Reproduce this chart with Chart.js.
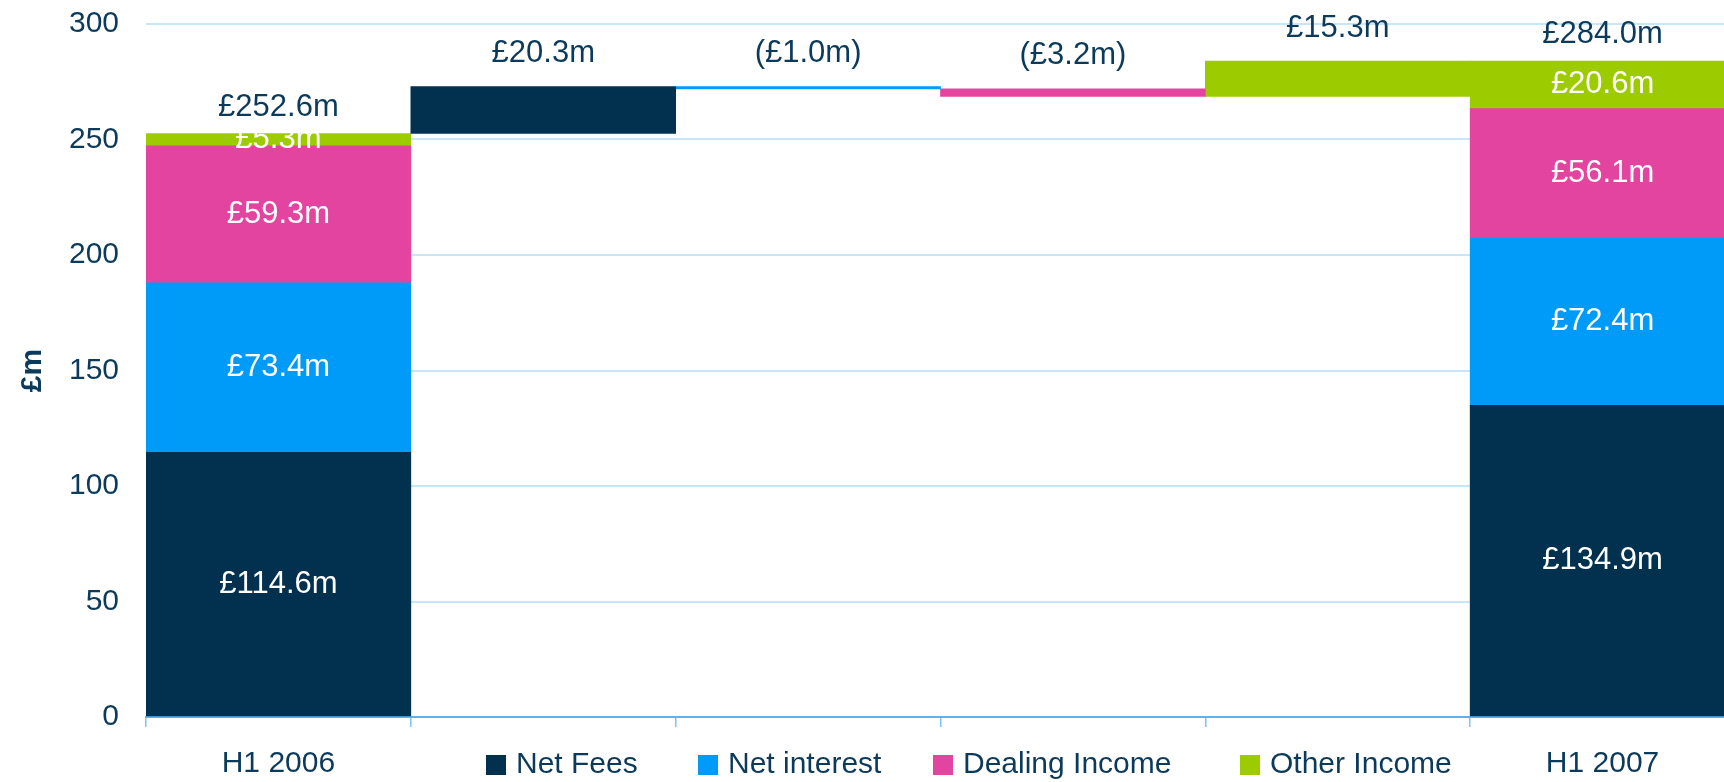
<!DOCTYPE html>
<html><head><meta charset="utf-8">
<script src="https://cdn.jsdelivr.net/npm/chart.js@4.4.1/dist/chart.umd.min.js"></script>
<style>html,body{margin:0;padding:0;overflow:hidden;background:#fff;} #wrap{width:1740px;height:803px;position:relative;top:-21px;}</style>
</head><body><div id="wrap"><canvas id="c"></canvas></div>
<script>
const categories = ["H1 2006", "", "", "", "", "H1 2007"];
const seriesNames = ["Net Fees", "Net interest", "Dealing Income", "Other Income"];
const h1_2006 = [114.6, 73.4, 59.3, 5.3];
const changes = [20.3, -1.0, -3.2, 15.3];
const h1_2007 = [134.9, 72.4, 56.1, 20.6];
const yTicks = [0, 50, 100, 150, 200, 250, 300];

const colors = ["#02314f", "#009bf8", "#e344a0", "#9ccc00"];
const NAVY_TEXT = "#0c3a5b";
const FONT = "'Liberation Sans', Arial, sans-serif";

// build floating ranges
const total06 = h1_2006.reduce((a, b) => a + b, 0);
const total07 = h1_2007.reduce((a, b) => a + b, 0);
const datasets = [];
let c06 = 0, c07 = 0, run = total06;
for (let i = 0; i < seriesNames.length; i++) {
  const d = [null, null, null, null, null, null];
  d[0] = [c06, c06 + h1_2006[i]]; c06 += h1_2006[i];
  d[1 + i] = [run, run + changes[i]]; run += changes[i];
  d[5] = [c07, c07 + h1_2007[i]]; c07 += h1_2007[i];
  datasets.push({
    label: seriesNames[i], data: d, backgroundColor: colors[i],
    borderWidth: 0, grouped: false, barPercentage: 1, categoryPercentage: 1
  });
}
const fmt = v => v < 0 ? "(£" + Math.abs(v).toFixed(1) + "m)" : "£" + v.toFixed(1) + "m";

const labelPlugin = {
  id: 'labels',
  afterDatasetsDraw(chart) {
    const ctx = chart.ctx, y = chart.scales.y;
    ctx.save();
    ctx.font = "31px " + FONT;
    ctx.textAlign = 'center'; ctx.textBaseline = 'middle';
    chart.data.datasets.forEach((ds, i) => {
      const meta = chart.getDatasetMeta(i);
      [0, 5].forEach(k => {
        const el = meta.data[k];
        const v = k === 0 ? h1_2006[i] : h1_2007[i];
        ctx.fillStyle = '#ffffff';
        ctx.fillText(fmt(v), el.x, (el.y + el.base) / 2);
      });
      const el = meta.data[1 + i];
      ctx.fillStyle = NAVY_TEXT;
      ctx.fillText(fmt(changes[i]), el.x, Math.min(el.y, el.base) - 33);
    });
    const m0 = chart.getDatasetMeta(0);
    ctx.fillStyle = NAVY_TEXT;
    ctx.fillText(fmt(total06), m0.data[0].x, y.getPixelForValue(total06) - 26);
    ctx.fillText(fmt(total07), m0.data[5].x, y.getPixelForValue(total07) - 27);
    ctx.restore();
  }
};

const legendX = [486, 698, 933, 1240];
const legendPlugin = {
  id: 'legendRow',
  afterDraw(chart) {
    const ctx = chart.ctx;
    const yc = chart.chartArea.bottom + 48;
    ctx.save();
    ctx.font = "30px " + FONT;
    ctx.textAlign = 'left'; ctx.textBaseline = 'middle';
    seriesNames.forEach((n, i) => {
      ctx.fillStyle = colors[i];
      ctx.fillRect(legendX[i], yc - 10, 20, 20);
      ctx.fillStyle = NAVY_TEXT;
      ctx.fillText(n, legendX[i] + 30, yc);
    });
    ctx.restore();
  }
};

new Chart(document.getElementById('c'), {
  type: 'bar',
  data: { labels: categories, datasets },
  plugins: [labelPlugin, legendPlugin],
  options: {
    responsive: true, maintainAspectRatio: false, animation: false,
    layout: { padding: { top: 2, right: 5, left: 0, bottom: 0 } },
    plugins: { legend: { display: false }, tooltip: { enabled: false } },
    scales: {
      x: {
        z: 1,
        afterFit: s => { s.height = 65; },
        grid: { display: true, drawOnChartArea: false, drawTicks: true, tickLength: 10, color: '#7cc4f7', lineWidth: 1.5, offset: true },
        border: { display: true, color: '#5cb2ee', width: 2 },
        ticks: { color: NAVY_TEXT, font: { family: FONT, size: 30 }, padding: 19, maxRotation: 0, autoSkip: false }
      },
      y: {
        min: 0, max: 300,
        afterBuildTicks: s => { s.ticks = yTicks.map(v => ({ value: v })); },
        afterFit: s => { s.width = 146; },
        grid: { color: '#c6e6fa', lineWidth: 2, drawTicks: false },
        border: { display: false },
        ticks: { color: NAVY_TEXT, font: { family: FONT, size: 30 }, padding: 27 },
        title: { display: true, text: '£m', color: NAVY_TEXT, font: { family: FONT, size: 30, weight: 'bold' }, padding: { top: 15, bottom: 0 } }
      }
    }
  }
});
</script></body></html>
